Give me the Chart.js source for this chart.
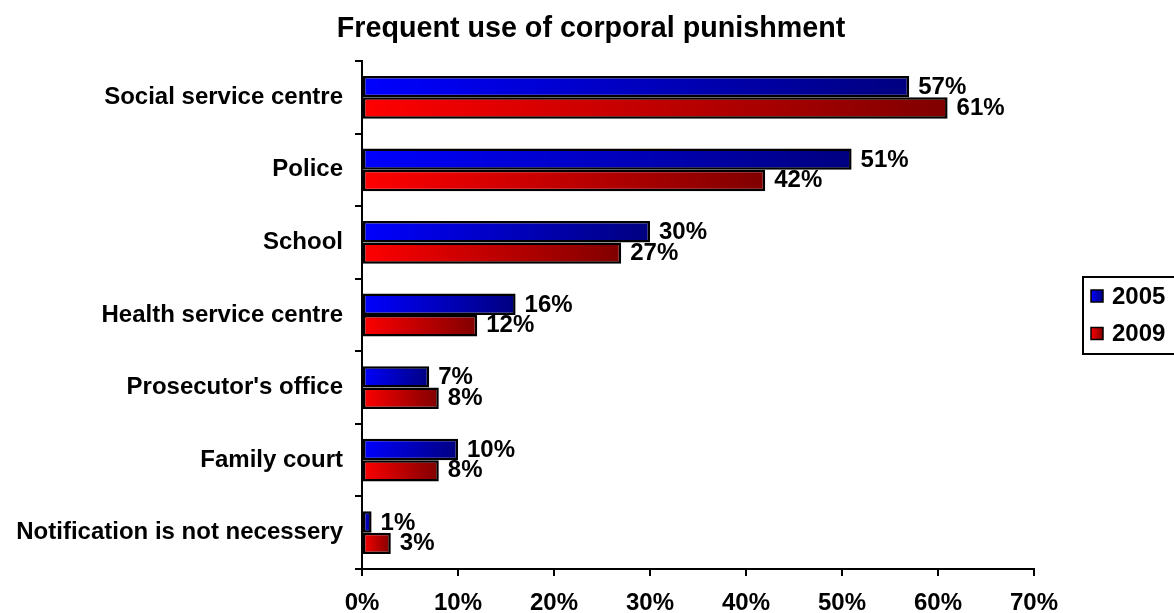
<!DOCTYPE html>
<html>
<head>
<meta charset="utf-8">
<title>Frequent use of corporal punishment</title>
<script src="https://cdn.jsdelivr.net/npm/chart.js@4/dist/chart.umd.min.js"></script>
<style>
    body { margin: 0; background: #fff; }
    #wrap { width: 1174px; height: 613px; position: relative; }
</style>
</head>
<body>
<div id="wrap"><canvas id="punishment_chart"></canvas></div>
<script>
// Institutions asked about
const institutions = [
    'Social service centre',
    'Police',
    'School',
    'Health service centre',
    "Prosecutor's office",
    'Family court',
    'Notification is not necessery'
];

// Share of respondents (%) per survey year
const values2005 = [57, 51, 30, 16, 7, 10, 1];
const values2009 = [61, 42, 27, 12, 8, 8, 3];

const yearLabels = ['2005', '2009'];
const xTicks = [0, 10, 20, 30, 40, 50, 60, 70];

const chartTitle = 'Frequent use of corporal punishment';
const FONT = 'Arial, "Liberation Sans", sans-serif';

// bright -> dark gradient along each bar, from the zero line to the bar end
function barGradient(ctx, from, to) {
    const chart = ctx.chart;
    if (!chart.chartArea || ctx.type !== 'data') return from;
    const x0 = chart.scales.x.getPixelForValue(0);
    const x1 = chart.scales.x.getPixelForValue(ctx.raw);
    if (x1 - x0 < 1) return from;
    const g = chart.ctx.createLinearGradient(x0, 0, x1, 0);
    g.addColorStop(0, from);
    g.addColorStop(1, to);
    return g;
}

const seriesColors = [
    ['#0000ff', '#000080'],
    ['#ff0000', '#800000']
];

// title centred on the whole canvas (the built-in one ignores the legend gap)
const pageTitle = {
    id: 'pageTitle',
    afterDraw(chart) {
        const c = chart.ctx;
        c.save();
        c.font = 'bold 28.7px ' + FONT;
        c.fillStyle = '#000';
        c.textAlign = 'center';
        c.textBaseline = 'alphabetic';
        c.fillText(chartTitle, 591, 37);
        c.restore();
    }
};

// "57%" style labels right of each bar
const valueLabels = {
    id: 'valueLabels',
    afterDatasetsDraw(chart) {
        const c = chart.ctx;
        c.save();
        c.font = 'bold 24px ' + FONT;
        c.fillStyle = '#000';
        c.textAlign = 'left';
        c.textBaseline = 'middle';
        chart.data.datasets.forEach((ds, di) => {
            chart.getDatasetMeta(di).data.forEach((bar, i) => {
                c.fillText(ds.data[i] + '%', bar.x + 9, bar.y + (di === 0 ? 1 : 0));
            });
        });
        c.restore();
    }
};

// boxed legend on the right
const boxLegend = {
    id: 'boxLegend',
    afterDraw(chart) {
        const c = chart.ctx;
        c.save();
        c.lineWidth = 2;
        c.strokeStyle = '#000';
        c.strokeRect(1083, 277, 120, 77);
        c.font = 'bold 24px ' + FONT;
        c.textAlign = 'left';
        c.textBaseline = 'middle';
        chart.data.datasets.forEach((ds, i) => {
            const cy = 296 + i * 37.5;
            const g = c.createLinearGradient(1091, 0, 1103, 0);
            g.addColorStop(0, seriesColors[i][0]);
            g.addColorStop(1, seriesColors[i][1]);
            c.fillStyle = g;
            c.fillRect(1091, cy - 6, 12, 12);
            c.lineWidth = 1.5;
            c.strokeRect(1091, cy - 6, 12, 12);
            c.fillStyle = '#000';
            c.fillText(ds.label, 1112, cy + 1);
        });
        c.restore();
    }
};

new Chart(document.getElementById('punishment_chart'), {
    type: 'bar',
    data: {
        labels: institutions,
        datasets: [values2005, values2009].map((vals, i) => ({
            label: yearLabels[i],
            data: vals,
            backgroundColor: ctx => barGradient(ctx, seriesColors[i][0], seriesColors[i][1]),
            borderColor: '#000',
            borderWidth: 2.5,
            borderSkipped: false,
            categoryPercentage: 0.59,
            barPercentage: 1.0
        }))
    },
    options: {
        indexAxis: 'y',
        responsive: true,
        maintainAspectRatio: false,
        animation: false,
        layout: { padding: { left: 0, right: 140, top: 61, bottom: 0 } },
        plugins: {
            legend: { display: false },
            tooltip: { enabled: false },
            title: { display: false }
        },
        scales: {
            x: {
                min: 0,
                max: 70,
                afterFit: scale => { scale.height = 44; },
                afterBuildTicks: scale => { scale.ticks = xTicks.map(v => ({ value: v })); },
                border: { display: true, color: '#000', width: 2 },
                grid: { drawOnChartArea: false, drawTicks: true, tickLength: 7, color: '#000', lineWidth: 2 },
                ticks: {
                    color: '#000',
                    padding: 13,
                    maxRotation: 0,
                    font: { family: FONT, size: 24, weight: 'bold' },
                    callback: v => v + '%'
                }
            },
            y: {
                afterFit: scale => { scale.width = 362; },
                border: { display: true, color: '#000', width: 2 },
                grid: { offset: true, drawOnChartArea: false, drawTicks: true, tickLength: 7, color: '#000', lineWidth: 2 },
                ticks: {
                    color: '#000',
                    padding: 12,
                    font: { family: FONT, size: 24, weight: 'bold' }
                }
            }
        }
    },
    plugins: [valueLabels, boxLegend, pageTitle]
});
</script>
</body>
</html>
